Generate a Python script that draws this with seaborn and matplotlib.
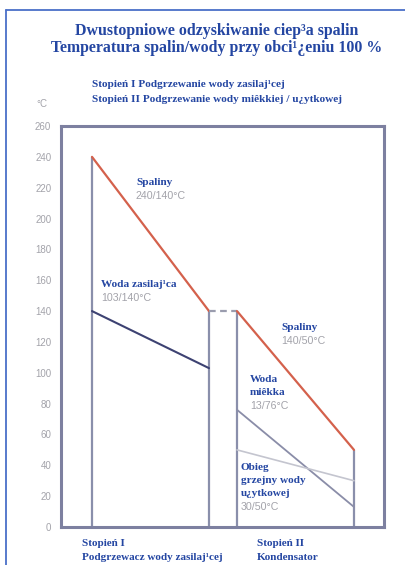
import matplotlib.pyplot as plt
import seaborn as sns
from matplotlib.lines import Line2D

# dane: odcinki temperatur (x w umownych jednostkach wzdłuż wymienników)
x_st1 = [3.1, 14.8]
x_st2 = [17.6, 29.3]
spaliny_1 = [240, 140]
woda_zasilajaca = [140, 103]
spaliny_2 = [140, 50]
woda_miekka = [76, 13]
obieg_cwu = [50, 30]
pion_x = [3.1, 14.8, 17.6, 29.3]
pion_top = [240, 140, 140, 50]
y_ticks = list(range(0, 261, 20))

BLUE = '#2446a2'
FRAME = '#7d80a0'
GREY_TXT = '#a3a3aa'

sns.set_theme(style='white')
plt.rcParams['font.family'] = ['Liberation Serif', 'DejaVu Serif']

fig = plt.figure(figsize=(4.06, 5.65), dpi=100)
W, H = 406, 565


def px(x, y):
    return x / W, 1 - y / H


ax = fig.add_axes([61 / W, 1 - 527 / H, (384 - 61) / W, (527 - 126) / H])
ax.set_xlim(0, 32.3)
ax.set_ylim(0, 260)

# pionowe linie wymienników
ax.vlines(pion_x, 0, pion_top, color='#8a8fab', linewidth=1.6)

# przebiegi temperatur
sns.lineplot(x=x_st1, y=spaliny_1, ax=ax, color='#d4614c', linewidth=1.6)
sns.lineplot(x=x_st1, y=woda_zasilajaca, ax=ax, color='#3d4272', linewidth=1.5)
sns.lineplot(x=[x_st1[1], x_st2[0]], y=[spaliny_1[1], spaliny_2[0]], ax=ax,
             color='#9a9cae', linewidth=1.6, linestyle=(0, (3, 2)))
sns.lineplot(x=x_st2, y=spaliny_2, ax=ax, color='#d4614c', linewidth=1.6)
sns.lineplot(x=x_st2, y=woda_miekka, ax=ax, color='#8a8da8', linewidth=1.3)
sns.lineplot(x=x_st2, y=obieg_cwu, ax=ax, color='#c4c5cf', linewidth=1.2)

ax.set_xticks([])
ax.set_yticks(y_ticks)
ax.set_yticklabels([str(v) for v in y_ticks], family='Liberation Sans',
                   color=GREY_TXT, fontsize=7)
ax.tick_params(axis='y', length=0, pad=7)
for s in ax.spines.values():
    s.set_color(FRAME)
    s.set_linewidth(2.2)
ax.set_xlabel('')
ax.set_ylabel('')

# ramka strony
fig.add_artist(Line2D([6 / W, 6 / W], [0, 1 - 10 / H], color='#4a70c8', lw=1.3))
fig.add_artist(Line2D([6 / W, 1], [1 - 10 / H, 1 - 10 / H], color='#4a70c8', lw=1.3))

# tytuł
fig.text(*px(217, 31), 'Dwustopniowe odzyskiwanie ciep³a spalin', ha='center', va='center',
         color=BLUE, fontsize=11.4, fontweight='bold')
fig.text(*px(217, 48), 'Temperatura spalin/wody przy obci¹¿eniu 100 %', ha='center', va='center',
         color=BLUE, fontsize=11.4, fontweight='bold')
fig.text(*px(92, 84), 'Stopień I Podgrzewanie wody zasilaj¹cej', ha='left', va='center',
         color=BLUE, fontsize=8.1, fontweight='bold')
fig.text(*px(92, 99), 'Stopień II Podgrzewanie wody miêkkiej / u¿ytkowej', ha='left', va='center',
         color=BLUE, fontsize=8.1, fontweight='bold')
fig.text(*px(36, 104), '°C', ha='left', va='center', color=GREY_TXT, fontsize=7,
         family='Liberation Sans')

# opisy w wykresie
labels = [
    (136, 182, 'Spaliny', 196, '240/140°C'),
    (101, 284, 'Woda zasilaj¹ca', 298, '103/140°C'),
    (281, 327, 'Spaliny', 341, '140/50°C'),
    (250, 379, 'Woda\nmiêkka', 406, '13/76°C'),
    (241, 467, 'Obieg\ngrzejny wody\nu¿ytkowej', 507, '30/50°C'),
]
for xl, yl, name, yv, val in labels:
    fig.text(*px(xl, yl - 4), name, ha='left', va='top', color=BLUE, fontsize=8.1,
             fontweight='bold', linespacing=1.6)
    fig.text(*px(xl, yv), val, ha='left', va='center', color=GREY_TXT, fontsize=7.7,
             family='Liberation Sans')

# opisy stopni
fig.text(*px(82, 543), 'Stopień I', ha='left', va='center', color=BLUE, fontsize=8, fontweight='bold')
fig.text(*px(82, 558), 'Podgrzewacz wody zasilaj¹cej', ha='left', va='center', color=BLUE,
         fontsize=8, fontweight='bold')
fig.text(*px(257, 543), 'Stopień II', ha='left', va='center', color=BLUE, fontsize=8, fontweight='bold')
fig.text(*px(257, 558), 'Kondensator', ha='left', va='center', color=BLUE, fontsize=8, fontweight='bold')

fig.savefig('out.png', dpi=100)
